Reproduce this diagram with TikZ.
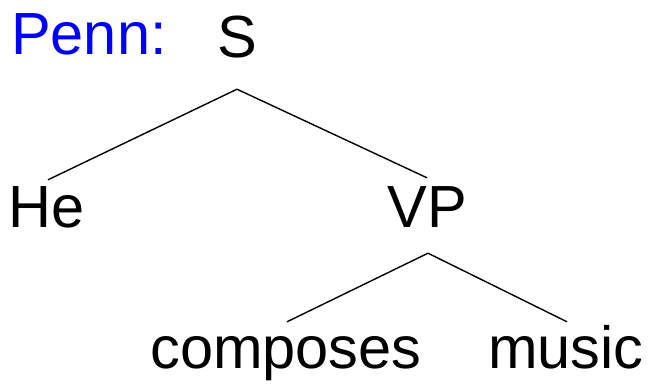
\documentclass[tikz,border=0pt]{standalone}
\usepackage{fontspec}
\setmainfont{Liberation Sans}
\usetikzlibrary{calc}
\begin{document}
\begin{tikzpicture}[x=1pt,y=-1pt,
  lbl/.style={font=\fontsize{59.5}{62}\selectfont, inner sep=0pt, text height=42pt, text depth=12pt, anchor=base},
  edge/.style={line width=1.4pt}]
\useasboundingbox (0,0) rectangle (650,387);
\node[lbl, anchor=base west, text=blue] (penn) at (11,55) {Penn:};
\node[lbl] (S) at (237,58) {S};
\node[lbl] (He) at (47,228) {He};
\node[lbl] (VP) at (427,228) {VP};
\node[lbl] (comp) at (286,368) {composes};
\node[lbl] (mus) at (566,368) {music};
\draw[edge] ($(S.south)+(0,19)$) -- ($(He.north)+(1,-6)$);
\draw[edge] ($(S.south)+(0,19)$) -- ($(VP.north)+(0,-8)$);
\draw[edge] ($(VP.south)+(1,13)$) -- ($(comp.north)+(1,-4)$);
\draw[edge] ($(VP.south)+(1,13)$) -- ($(mus.north)+(1,-4)$);
\end{tikzpicture}
\end{document}
